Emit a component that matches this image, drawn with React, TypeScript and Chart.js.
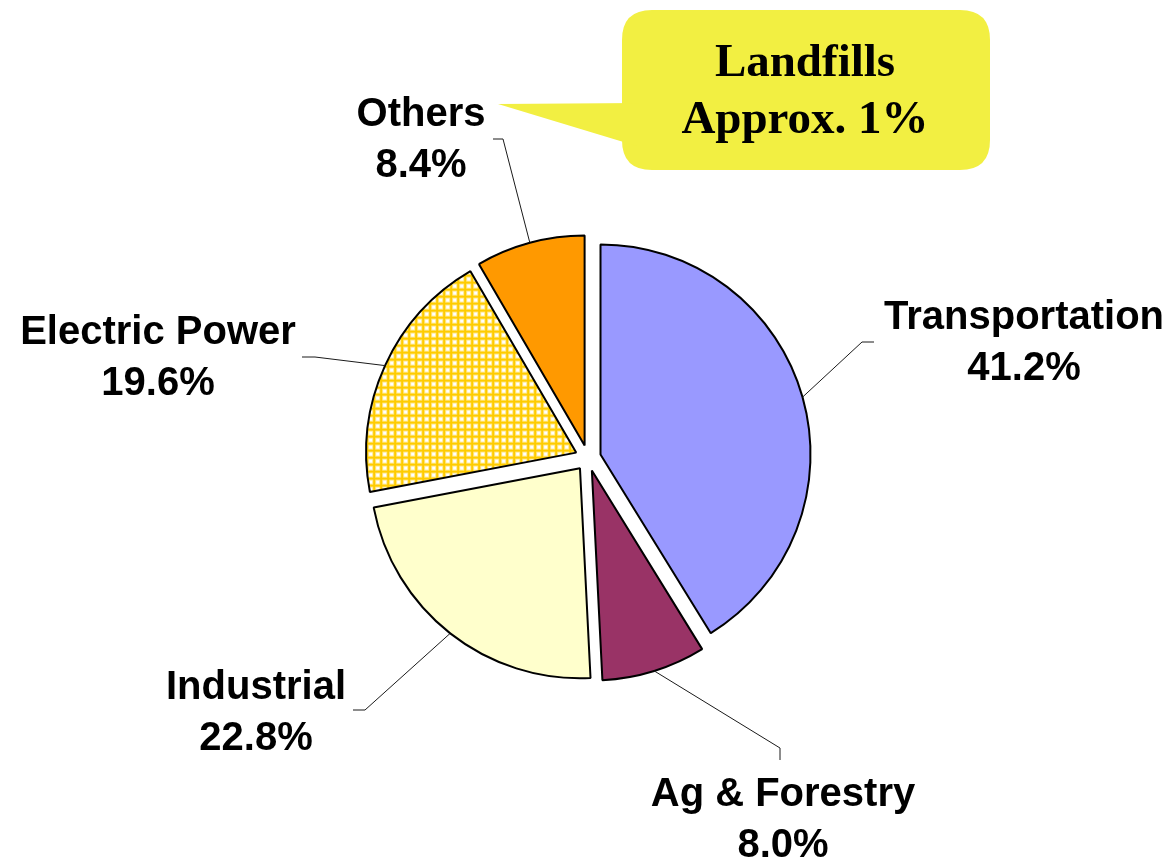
import React, { useEffect, useRef } from "react";
import { Chart, ArcElement, registerables } from "chart.js";

Chart.register(...registerables);

// ---- data ----
const categories = ["Transportation", "Ag & Forestry", "Industrial", "Electric Power", "Others"];
const shares = [41.2, 8.0, 22.8, 19.6, 8.4];
const shareLabels = ["41.2%", "8.0%", "22.8%", "19.6%", "8.4%"];
const sliceColors = ["#9999FF", "#993366", "#FFFFCC", "grid", "#FF9900"];
const calloutLines = ["Landfills", "Approx. 1%"];

// ---- layout (label anchors, leader-line elbows) ----
const labelLayout = [
  { x: 1024, y: 318, elbow: [862, 342], end: [874, 342] },
  { x: 783, y: 795, elbow: [780, 748], end: [780, 760] },
  { x: 256, y: 688, elbow: [365, 710], end: [353, 710] },
  { x: 158, y: 333, elbow: [315, 357], end: [302, 357] },
  { x: 421, y: 115, elbow: [503, 139], end: [493, 139] },
];
const LINE_GAP = 51;
const EXPLODE = 13;

// explode every slice outward by a fixed distance, keeping the radius uniform
const baseArcDraw = (ArcElement.prototype as any).draw;
(ArcElement.prototype as any).draw = function (ctx: CanvasRenderingContext2D) {
  const half = (this.startAngle + this.endAngle) / 2;
  ctx.save();
  ctx.translate(Math.cos(half) * EXPLODE, Math.sin(half) * EXPLODE);
  baseArcDraw.call(this, ctx);
  ctx.restore();
};

function makeGrid(): CanvasPattern | string {
  const c = document.createElement("canvas");
  c.width = 7;
  c.height = 7;
  const g = c.getContext("2d");
  if (!g) return "#FFE680";
  g.fillStyle = "#FFFFFF";
  g.fillRect(0, 0, 7, 7);
  g.fillStyle = "#FFE98F";
  g.fillRect(0, 2, 7, 1);
  g.fillRect(0, 6, 7, 1);
  g.fillRect(2, 0, 1, 7);
  g.fillRect(6, 0, 1, 7);
  g.fillStyle = "#FFCC00";
  g.fillRect(0, 0, 7, 2);
  g.fillRect(0, 0, 2, 7);
  const p = g.createPattern(c, "repeat");
  return p || "#FFE680";
}

const labelsPlugin = {
  id: "pieLabels",
  beforeDraw(chart: any) {
    const ctx: CanvasRenderingContext2D = chart.ctx;
    ctx.save();
    // callout bubble
    ctx.fillStyle = "#F2EF42";
    const x = 622, y = 10, w = 368, h = 160, r = 30;
    ctx.beginPath();
    ctx.moveTo(x + r, y);
    ctx.lineTo(x + w - r, y);
    ctx.quadraticCurveTo(x + w, y, x + w, y + r);
    ctx.lineTo(x + w, y + h - r);
    ctx.quadraticCurveTo(x + w, y + h, x + w - r, y + h);
    ctx.lineTo(x + r, y + h);
    ctx.quadraticCurveTo(x, y + h, x, y + h - r);
    ctx.lineTo(x, y + r);
    ctx.quadraticCurveTo(x, y, x + r, y);
    ctx.closePath();
    ctx.fill();
    ctx.beginPath();
    ctx.moveTo(640, 103);
    ctx.lineTo(498, 104);
    ctx.lineTo(640, 147);
    ctx.closePath();
    ctx.fill();
    ctx.fillStyle = "#000";
    ctx.font = "bold 47px 'Liberation Serif', 'Times New Roman', serif";
    ctx.textAlign = "center";
    ctx.textBaseline = "middle";
    ctx.fillText(calloutLines[0], 805, 64);
    ctx.fillText(calloutLines[1], 805, 121);
    ctx.restore();
  },
  afterDatasetsDraw(chart: any) {
    const ctx: CanvasRenderingContext2D = chart.ctx;
    const meta = chart.getDatasetMeta(0);
    ctx.save();
    meta.data.forEach((arc: any, i: number) => {
      const p = arc.getProps(["x", "y", "startAngle", "endAngle", "outerRadius"], true);
      const half = (p.startAngle + p.endAngle) / 2;
      const sx = p.x + Math.cos(half) * (EXPLODE + p.outerRadius);
      const sy = p.y + Math.sin(half) * (EXPLODE + p.outerRadius);
      const L = labelLayout[i];
      ctx.strokeStyle = "#1a1a1a";
      ctx.lineWidth = 1;
      ctx.beginPath();
      ctx.moveTo(sx, sy);
      ctx.lineTo(L.elbow[0], L.elbow[1]);
      ctx.lineTo(L.end[0], L.end[1]);
      ctx.stroke();
      ctx.fillStyle = "#000";
      ctx.font = "bold 40px 'Liberation Sans', Arial, sans-serif";
      ctx.textAlign = "center";
      ctx.textBaseline = "middle";
      ctx.fillText(categories[i], L.x, L.y);
      ctx.fillText(shareLabels[i], L.x, L.y + LINE_GAP);
    });
    ctx.restore();
  },
};

export default function App() {
  const ref = useRef<HTMLCanvasElement | null>(null);
  useEffect(() => {
    if (!ref.current) return;
    const grid = makeGrid();
    const bg = sliceColors.map((c) => (c === "grid" ? grid : c));
    const chart = new Chart(ref.current, {
      type: "pie",
      data: {
        labels: categories,
        datasets: [
          {
            data: shares,
            backgroundColor: bg as any,
            borderColor: "#000000",
            borderWidth: 2,
            offset: 0,
          },
        ],
      },
      options: {
        responsive: false,
        animation: false,
        radius: 210,
        layout: { padding: { left: 2, top: 55, right: 0, bottom: 0 } },
        plugins: { legend: { display: false }, tooltip: { enabled: false } },
      } as any,
      plugins: [labelsPlugin],
    });
    return () => chart.destroy();
  }, []);
  return (
    <div style={{ position: "fixed", left: 0, top: 0, width: 1174, height: 861, background: "#fff" }}>
      <canvas ref={ref} width={1174} height={861} style={{ display: "block" }} />
    </div>
  );
}
